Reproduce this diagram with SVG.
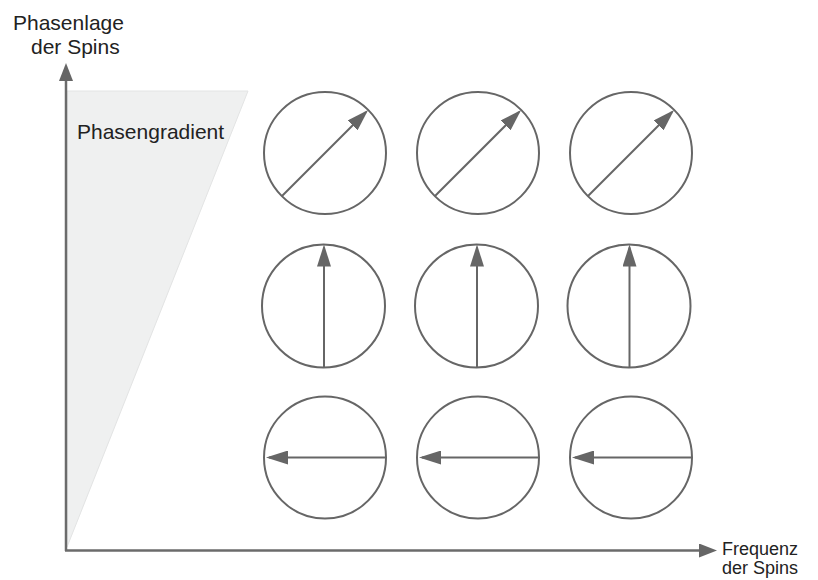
<svg xmlns="http://www.w3.org/2000/svg" width="818" height="580" viewBox="0 0 818 580">
  <style>
    .lbl { font-family: "Liberation Sans", Arial, sans-serif; font-size: 21px; fill: #222; }
    .lbl-s { font-family: "Liberation Sans", Arial, sans-serif; font-size: 18px; fill: #222; }
    .spin { fill: none; stroke: #666; stroke-width: 2; }
    .vec { fill: none; stroke: #666; stroke-width: 2; marker-end: url(#ah); }
    .axis { fill: none; stroke: #6b6b6b; stroke-width: 2.5; }
  </style>
  <defs>
    <marker id="ah" viewBox="0 0 22 14" refX="19" refY="7" markerWidth="22" markerHeight="14" orient="auto" markerUnits="userSpaceOnUse">
      <path d="M0,0 L22,7 L0,14 Z" fill="#666"/>
    </marker>
    <marker id="axh" viewBox="0 0 18 14" refX="1" refY="7" markerWidth="18" markerHeight="14" orient="auto" markerUnits="userSpaceOnUse">
      <path d="M0,0 L18,7 L0,14 Z" fill="#666"/>
    </marker>
  </defs>

  <g id="gradient-area">
    <polygon points="67,91 248,91 67,547" fill="#eff0f0" stroke="#e3e4e4" stroke-width="1"/>
    <text class="lbl" x="77" y="139">Phasengradient</text>
  </g>

  <g id="axes">
    <path class="axis" d="M66,551 L66,80" marker-end="url(#axh)"/>
    <path class="axis" d="M65,550.5 L700,550.5" marker-end="url(#axh)"/>
  </g>

  <g id="y-label">
    <text class="lbl" x="13" y="29.5">Phasenlage</text>
    <text class="lbl" x="31" y="54">der Spins</text>
  </g>
  <g id="x-label">
    <text class="lbl-s" x="798" y="555" text-anchor="end">Frequenz</text>
    <text class="lbl-s" x="798" y="574" text-anchor="end">der Spins</text>
  </g>

  <g id="spin-r1c1"><circle class="spin" cx="325" cy="153" r="61"/><path class="vec" d="M282,196 L366,112"/></g>
  <g id="spin-r1c2"><circle class="spin" cx="478" cy="153" r="61"/><path class="vec" d="M435,196 L519,112"/></g>
  <g id="spin-r1c3"><circle class="spin" cx="631" cy="153" r="61"/><path class="vec" d="M588,196 L672,112"/></g>

  <g id="spin-r2c1"><circle class="spin" cx="323.5" cy="306" r="61.5"/><path class="vec" d="M324,367.5 L324,247.5"/></g>
  <g id="spin-r2c2"><circle class="spin" cx="476.5" cy="306" r="61.5"/><path class="vec" d="M477,367.5 L477,247.5"/></g>
  <g id="spin-r2c3"><circle class="spin" cx="629" cy="306" r="61.5"/><path class="vec" d="M629.5,367.5 L629.5,247.5"/></g>

  <g id="spin-r3c1"><circle class="spin" cx="325" cy="457.5" r="61"/><path class="vec" d="M386,457.5 L269,457.5"/></g>
  <g id="spin-r3c2"><circle class="spin" cx="478" cy="457.5" r="61"/><path class="vec" d="M539,457.5 L422,457.5"/></g>
  <g id="spin-r3c3"><circle class="spin" cx="631" cy="457.5" r="61"/><path class="vec" d="M692,457.5 L575,457.5"/></g>
</svg>
